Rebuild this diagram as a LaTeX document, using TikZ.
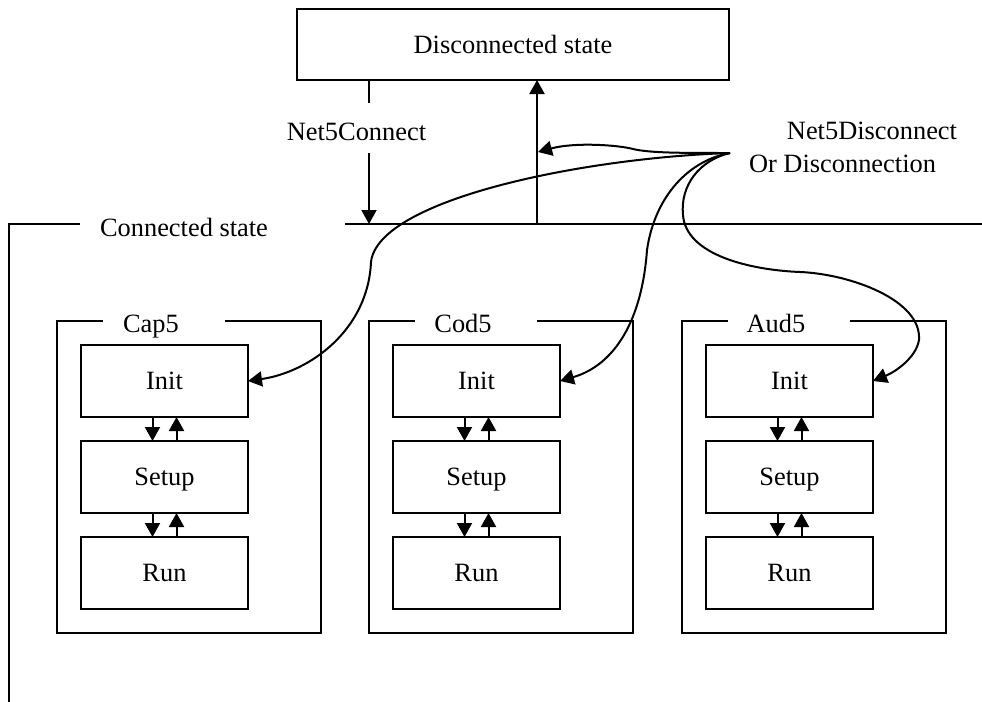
\documentclass[tikz,border=0pt]{standalone}
\usepackage{fontspec}
\setmainfont{Liberation Serif}
\usetikzlibrary{arrows.meta,calc}
\begin{document}
\begin{tikzpicture}[x=0.5pt,y=-0.5pt,
  every node/.style={font=\fontsize{13.2}{16}\selectfont},
  statebox/.style={draw, line width=0.75pt, minimum width=83.5pt, minimum height=36pt,
    inner sep=0pt, outer sep=0pt, text height=9pt, text depth=1pt},
  modframe/.style={minimum width=132pt, minimum height=156pt, inner sep=0pt, outer sep=0pt},
  wire/.style={line width=0.9pt},
  tr/.style={line width=1pt, -{Triangle[length=7pt,width=7.5pt]}}]
\useasboundingbox (0,0) rectangle (982,702);

% top state
\node[draw, line width=1pt, minimum width=216pt, minimum height=35.5pt,
      inner sep=0pt, outer sep=0pt] (disc) at (513,44.5) {Disconnected state};

% connected state boundary
\draw[wire] (80,224) -- (9,224) -- (9,702);
\draw[wire] (345,224) -- (982,224);
\node[anchor=base] (conlab) at (184,236) {Connected state};

% Net5Connect transition
\coordinate (cin) at (369,224);
\coordinate (cstart) at (369,153);
\draw[wire] (cin |- disc.south) -- ++(0,23);
\node[anchor=base] (connlab) at (356.5,140) {Net5Connect};
\draw[tr] (cstart) -- (cin);

% disconnect transition
\coordinate (upbase) at (537,224);
\coordinate (upmid) at (538,152);
\draw[tr] (upbase) -- (upbase |- disc.south);
\node[anchor=base] (dlab1) at (872,139.5) {Net5Disconnect};
\node[anchor=base] (dlab2) at (842.5,172) {Or Disconnection};
\coordinate (src) at (730,153);

% modules
\foreach \n/\lab/\dx in {cap/Cap5/0, cod/Cod5/312, aud/Aud5/625} {
  \node[modframe] (\n-frame) at (189+\dx,477) {};
  \draw[wire] ($(\n-frame.north west)+(46,0)$) -- (\n-frame.north west)
    -- (\n-frame.south west) -- (\n-frame.south east) -- (\n-frame.north east)
    -- ++(-96,0);
  \node[anchor=base] (\n-lab) at ($(\n-frame.north west)+(94,11)$) {\lab};
  \node[statebox] (\n-init) at (164.5+\dx,381) {Init};
  \node[statebox] (\n-setup) at (164.5+\dx,477) {Setup};
  \node[statebox] (\n-run) at (164.5+\dx,573) {Run};
  \draw[tr] ($(\n-init.south)+(-12,0)$) -- ($(\n-setup.north)+(-12,0)$);
  \draw[tr] ($(\n-setup.north)+(12,0)$) -- ($(\n-init.south)+(12,0)$);
  \draw[tr] ($(\n-setup.south)+(-12,0)$) -- ($(\n-run.north)+(-12,0)$);
  \draw[tr] ($(\n-run.north)+(12,0)$) -- ($(\n-setup.south)+(12,0)$);
}

% fan-out of the disconnect event
\draw[tr] (src) .. controls (680,153) and (650,153) .. (633,149)
  .. controls (618,145) and (575,142) .. (upmid);
\draw[tr] (src) .. controls (580,158) and (378,200) .. (371,262)
  .. controls (368,330) and (310,372) .. (cap-init.east);
\draw[tr] (src) .. controls (690,160) and (655,195) .. (647,250)
  .. controls (642,320) and (615,365) .. (cod-init.east);
\draw[tr] (src) .. controls (700,160) and (680,185) .. (683,215)
  .. controls (686,255) and (750,270) .. (800,272)
  .. controls (850,274) and (922,300) .. (919,340)
  .. controls (916,358) and (895,372) .. (aud-init.east);
\end{tikzpicture}
\end{document}
